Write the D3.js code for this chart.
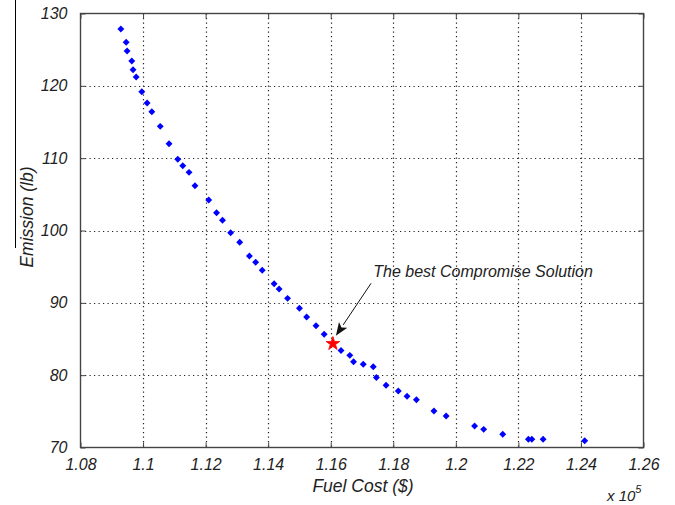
<!DOCTYPE html>
<html>
  <head>
    <meta charset="utf-8">
    <script src="https://d3js.org/d3.v7.min.js"></script>
    <title>Pareto front: Fuel Cost vs Emission</title>
    <style>
      body { margin: 0; background: #fff; }
      text { font-family: "Liberation Sans", Arial, sans-serif; font-style: italic; fill: #222; }
    </style>
  </head>
  <body>
    <div id="svg_id"></div>
  <script>

    // DATA (fuel cost in $, emission in lb)
    var fuelCost = [109290, 109460, 109490, 109640, 109680, 109780, 109960, 110130, 110280, 110550,
                    110830, 111110, 111270, 111470, 111660, 112100, 112350, 112540, 112800, 113090,
                    113400, 113600, 113810, 114190, 114350, 114620, 115000, 115230, 115530, 115790,
                    116330, 116610, 116730, 117040, 117360, 117460, 117770, 118160, 118440, 118740,
                    119300, 119690, 120600, 120890, 121500, 122320, 122430, 122790, 124120];
    var emission = [127.86, 126.02, 124.82, 123.43, 122.23, 121.22, 119.19, 117.63, 116.42, 114.40,
                    112.00, 109.84, 108.96, 108.04, 106.18, 104.22, 102.46, 101.41, 99.69, 98.37,
                    96.47, 95.60, 94.50, 92.64, 91.91, 90.62, 89.24, 88.04, 86.84, 85.65,
                    83.41, 82.74, 81.86, 81.51, 81.17, 79.67, 78.60, 77.81, 77.08, 76.61,
                    75.04, 74.35, 72.97, 72.51, 71.82, 71.13, 71.13, 71.13, 70.94];
    var bestFuel = 116070;
    var bestEmission = 84.35;
    var xTicks = [108000, 110000, 112000, 114000, 116000, 118000, 120000, 122000, 124000, 126000];
    var yTicks = [70, 80, 90, 100, 110, 120, 130];
    var noteText = 'The best Compromise Solution';
    var noteAt = [117360, 93.57];
    var arrowFrom = [117290, 92.7];

    // CONSTANTS
    const w = 675, h = 505;
    const plot = {left: 80.5, right: 643.5, top: 13.5, bottom: 447.5};

    var svg = d3.select('div#svg_id')
	.append('svg')
	.attr('width', w)
	.attr('height', h);

    var xscale = d3.scaleLinear()
	.domain([108000, 126000])
	.range([plot.left, plot.right]);

    var yscale = d3.scaleLinear()
	.domain([70, 130])
	.range([plot.bottom, plot.top]);

    // dotted grid
    svg.append('g').selectAll('line')
	.data(xTicks.slice(1, -1))
	.enter().append('line')
	.attr('x1', d => Math.round(xscale(d)) + 0.5).attr('x2', d => Math.round(xscale(d)) + 0.5)
	.attr('y1', plot.top).attr('y2', plot.bottom)
	.attr('stroke', '#222').attr('stroke-width', 1.2).attr('stroke-dasharray', '1.2,3.3');
    svg.append('g').selectAll('line')
	.data(yTicks.slice(1, -1))
	.enter().append('line')
	.attr('y1', d => Math.round(yscale(d)) + 0.5).attr('y2', d => Math.round(yscale(d)) + 0.5)
	.attr('x1', plot.left).attr('x2', plot.right)
	.attr('stroke', '#222').attr('stroke-width', 1.2).attr('stroke-dasharray', '1.2,3.3');

    // pareto points
    var diamond = d3.symbol().type(d3.symbolSquare).size(24);
    svg.append('g').selectAll('path')
	.data(fuelCost.map((f, i) => [f, emission[i]]))
	.enter().append('path')
	.attr('d', diamond)
	.attr('transform', d => 'translate(' + xscale(d[0]) + ',' + yscale(d[1]) + ') rotate(45)')
	.attr('fill', '#0000ff');

    // best compromise
    svg.append('path')
	.attr('d', d3.symbol().type(d3.symbolStar).size(58))
	.attr('transform', 'translate(' + xscale(bestFuel) + ',' + yscale(bestEmission) + ')')
	.attr('fill', '#ff0000')
	.attr('stroke', '#ff0000')
	.attr('stroke-width', 0.8);

    // axes box and inward ticks
    var axisColor = '#444';
    svg.append('rect')
	.attr('x', plot.left).attr('y', plot.top)
	.attr('width', plot.right - plot.left).attr('height', plot.bottom - plot.top)
	.attr('fill', 'none').attr('stroke', axisColor).attr('stroke-width', 1.4);

    var fmt = d => String(Math.round(d / 1000) / 100);
    var styleText = g => g.selectAll('text')
	.attr('font-size', 16).attr('font-family', null)
	.attr('font-style', 'italic').attr('fill', '#222');
    svg.append('g')
	.attr('transform', 'translate(0,' + plot.bottom + ')')
	.call(d3.axisBottom(xscale).tickValues(xTicks).tickSize(-5).tickPadding(11).tickFormat(fmt))
	.call(g => g.select('.domain').remove())
	.call(g => g.selectAll('line').attr('stroke', axisColor))
	.call(styleText);
    svg.append('g')
	.attr('transform', 'translate(0,' + plot.top + ')')
	.call(d3.axisTop(xscale).tickValues(xTicks).tickSize(-5).tickFormat(''))
	.call(g => g.select('.domain').remove())
	.call(g => g.selectAll('line').attr('stroke', axisColor));
    svg.append('g')
	.attr('transform', 'translate(' + plot.left + ',0)')
	.call(d3.axisLeft(yscale).tickValues(yTicks).tickSize(-5).tickPadding(13))
	.call(g => g.select('.domain').remove())
	.call(g => g.selectAll('line').attr('stroke', axisColor))
	.call(styleText);
    svg.append('g')
	.attr('transform', 'translate(' + plot.right + ',0)')
	.call(d3.axisRight(yscale).tickValues(yTicks).tickSize(-5).tickFormat(''))
	.call(g => g.select('.domain').remove())
	.call(g => g.selectAll('line').attr('stroke', axisColor));

    // labels
    svg.append('text')
	.attr('x', 363).attr('y', 492)
	.attr('text-anchor', 'middle')
	.attr('font-size', 17.5)
	.text('Fuel Cost ($)');
    svg.append('text')
	.attr('transform', 'translate(33,217) rotate(-90)')
	.attr('text-anchor', 'middle')
	.attr('font-size', 17.5)
	.text('Emission (lb)');
    var mult = svg.append('text')
	.attr('x', 607).attr('y', 501)
	.attr('font-size', 15);
    mult.append('tspan').text('x 10');
    mult.append('tspan').attr('dy', -8).attr('font-size', 11).text('5');

    // annotation with arrow
    svg.append('text')
	.attr('x', xscale(noteAt[0])).attr('y', yscale(noteAt[1]))
	.attr('font-size', 16)
	.text(noteText);

    var x0 = xscale(arrowFrom[0]), y0 = yscale(arrowFrom[1]);
    var tx = xscale(bestFuel) + 3, ty = yscale(bestEmission) - 8;
    var ang = Math.atan2(ty - y0, tx - x0);
    var hl = 13, hw = 5;
    var bx = tx - hl * Math.cos(ang), by = ty - hl * Math.sin(ang);
    svg.append('line')
	.attr('x1', x0).attr('y1', y0).attr('x2', bx).attr('y2', by)
	.attr('stroke', '#111').attr('stroke-width', 1);
    svg.append('path')
	.attr('d', 'M' + tx + ',' + ty +
	      'L' + (bx + hw * Math.sin(ang)) + ',' + (by - hw * Math.cos(ang)) +
	      'L' + (bx + 3 * Math.cos(ang)) + ',' + (by + 3 * Math.sin(ang)) +
	      'L' + (bx - hw * Math.sin(ang)) + ',' + (by + hw * Math.cos(ang)) + 'Z')
	.attr('fill', '#111');

    // thin scan edge at the far left
    svg.append('line')
	.attr('x1', 15.5).attr('x2', 15.5).attr('y1', 0).attr('y2', 248)
	.attr('stroke', '#000').attr('stroke-width', 1);

  </script>
  </body>
</html>
